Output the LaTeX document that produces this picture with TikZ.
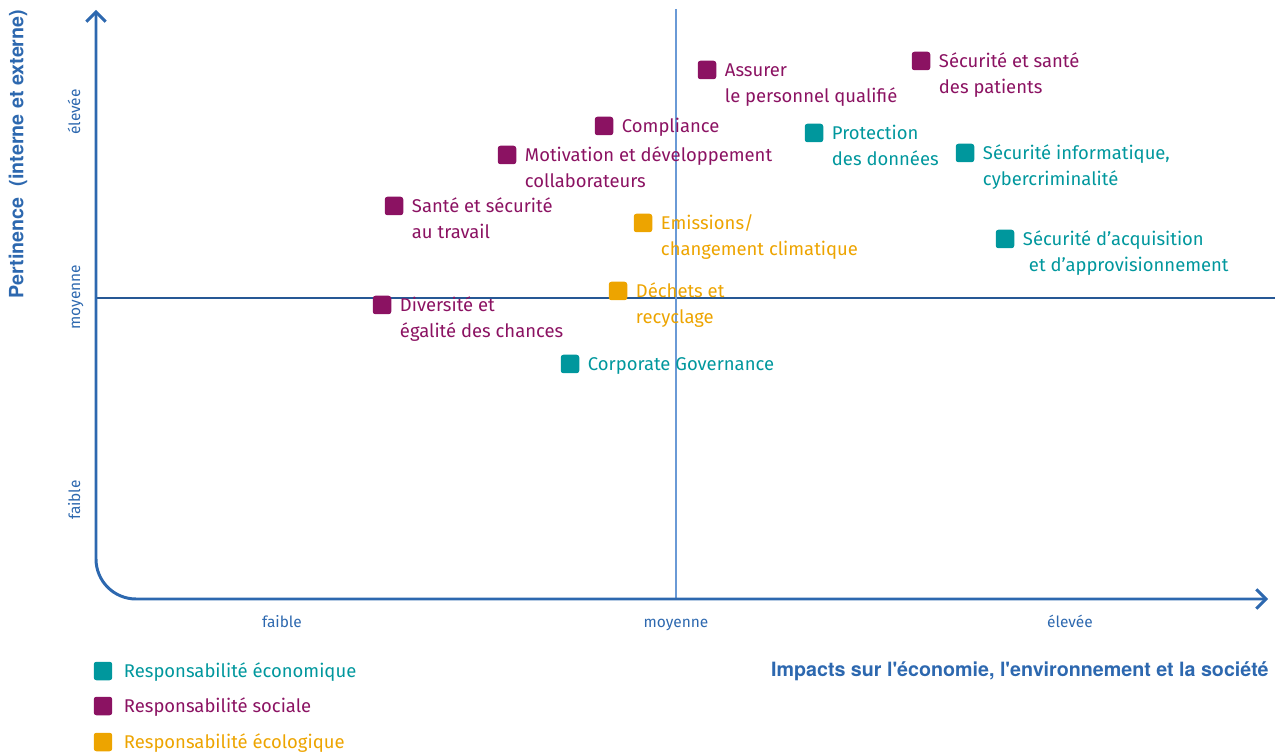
\documentclass[tikz,border=0pt]{standalone}
\usepackage{fontspec}
\setmainfont{Fira Sans}
\newfontfamily\titrefont{TeX Gyre Heros}
\usetikzlibrary{arrows.meta,calc}
\definecolor{cEco}{HTML}{00979D}
\definecolor{cSoc}{HTML}{8B1262}
\definecolor{cEcol}{HTML}{EDA400}
\definecolor{cAxe}{HTML}{2D68AF}
\definecolor{cMilieu}{HTML}{6A9AD6}
\tikzset{
  carre/.style={rectangle, rounded corners=1.5pt, minimum size=0.37cm, inner sep=0pt},
  etiquette/.style={anchor=base west, inner sep=0pt, font=\fontsize{10.5}{14.7}\selectfont},
  graduation/.style={text=cAxe, inner sep=0pt, anchor=base, font=\fontsize{8.8}{10}\selectfont},
  titre/.style={text=cAxe, inner sep=0pt, font=\titrefont\bfseries\fontsize{11.2}{13}\selectfont},
}
\newcommand\enjeu[4]{% nom, position, couleur, texte
  \node[carre, fill=#3] (#1) at (#2) {};
  \node[etiquette, text=#3] (#1-t) at ($(#1.east)+(8,6.5)$) {\begin{tabular}[t]{@{}l@{}}#4\end{tabular}};
}

\begin{document}
\begin{tikzpicture}[x=0.02cm, y=-0.02cm]
			%%%%% CADRE %%%%%
			\useasboundingbox (0, 0) rectangle (1281, 756);
			
			\draw[line width=0.6pt, color=cAxe!85!black] (96, 298) -- (1275, 298);
			\draw[line width=0.6pt, color=cMilieu] (676, 9) -- (676, 599);
			\draw[line width=1.7pt, color=cAxe, rounded corners=0.8cm,
			  {Straight Barb[length=5.5pt, width=11pt]}-{Straight Barb[length=5.5pt, width=11pt]}]
			  (96, 10) |- (1268, 599);
			
			%%%%% GRADUATIONS %%%%%
			\node[graduation, rotate=90] (y-elevee) at (80, 112) {élevée};
			\node[graduation, rotate=90] (y-moyenne) at (80, 297) {moyenne};
			\node[graduation, rotate=90] (y-faible) at (80, 500) {faible};
			\node[graduation] (x-faible) at (282, 627) {faible};
			\node[graduation] (x-moyenne) at (676, 627) {moyenne};
			\node[graduation] (x-elevee) at (1070, 627) {élevée};
			
			\node[titre, rotate=90] (titre-y) at (18, 154) {Pertinence\ \ (interne et externe)};
			\node[titre, anchor=east] (titre-x) at (1269, 671) {Impacts sur l\textquotesingle économie, l\textquotesingle environnement et la société};
			
			%%%%% ENJEUX %%%%%
			\enjeu{personnel}{707, 70}{cSoc}{Assurer\\le personnel qualifié}
			\enjeu{patients}{921, 61}{cSoc}{Sécurité et santé\\des patients}
			\enjeu{compliance}{604, 126}{cSoc}{Compliance}
			\enjeu{donnees}{814, 133}{cEco}{Protection\\des données}
			\enjeu{motivation}{507, 155}{cSoc}{Motivation et développement\\collaborateurs}
			\enjeu{informatique}{965, 153}{cEco}{Sécurité informatique,\\cybercriminalité}
			\enjeu{travail}{394, 206}{cSoc}{Santé et sécurité\\au travail}
			\enjeu{emissions}{643, 223}{cEcol}{Emissions/\\changement climatique}
			\enjeu{acquisition}{1005, 239}{cEco}{Sécurité d’acquisition\\\hspace{0.12cm}et d’approvisionnement}
			\enjeu{dechets}{618, 291}{cEcol}{Déchets et\\recyclage}
			\enjeu{diversite}{382, 305}{cSoc}{Diversité et\\égalité des chances}
			\enjeu{governance}{570, 364}{cEco}{Corporate Governance}
			
			%%%%% LEGENDE %%%%%
			\enjeu{leg-eco}{103, 671}{cEco}{\hspace{0.06cm}Responsabilité économique}
			\enjeu{leg-soc}{103, 706}{cSoc}{\hspace{0.06cm}Responsabilité sociale}
			\enjeu{leg-ecol}{103, 742}{cEcol}{\hspace{0.06cm}Responsabilité écologique}
			
			%%%%% FIN %%%%%
\end{tikzpicture}
\end{document}
